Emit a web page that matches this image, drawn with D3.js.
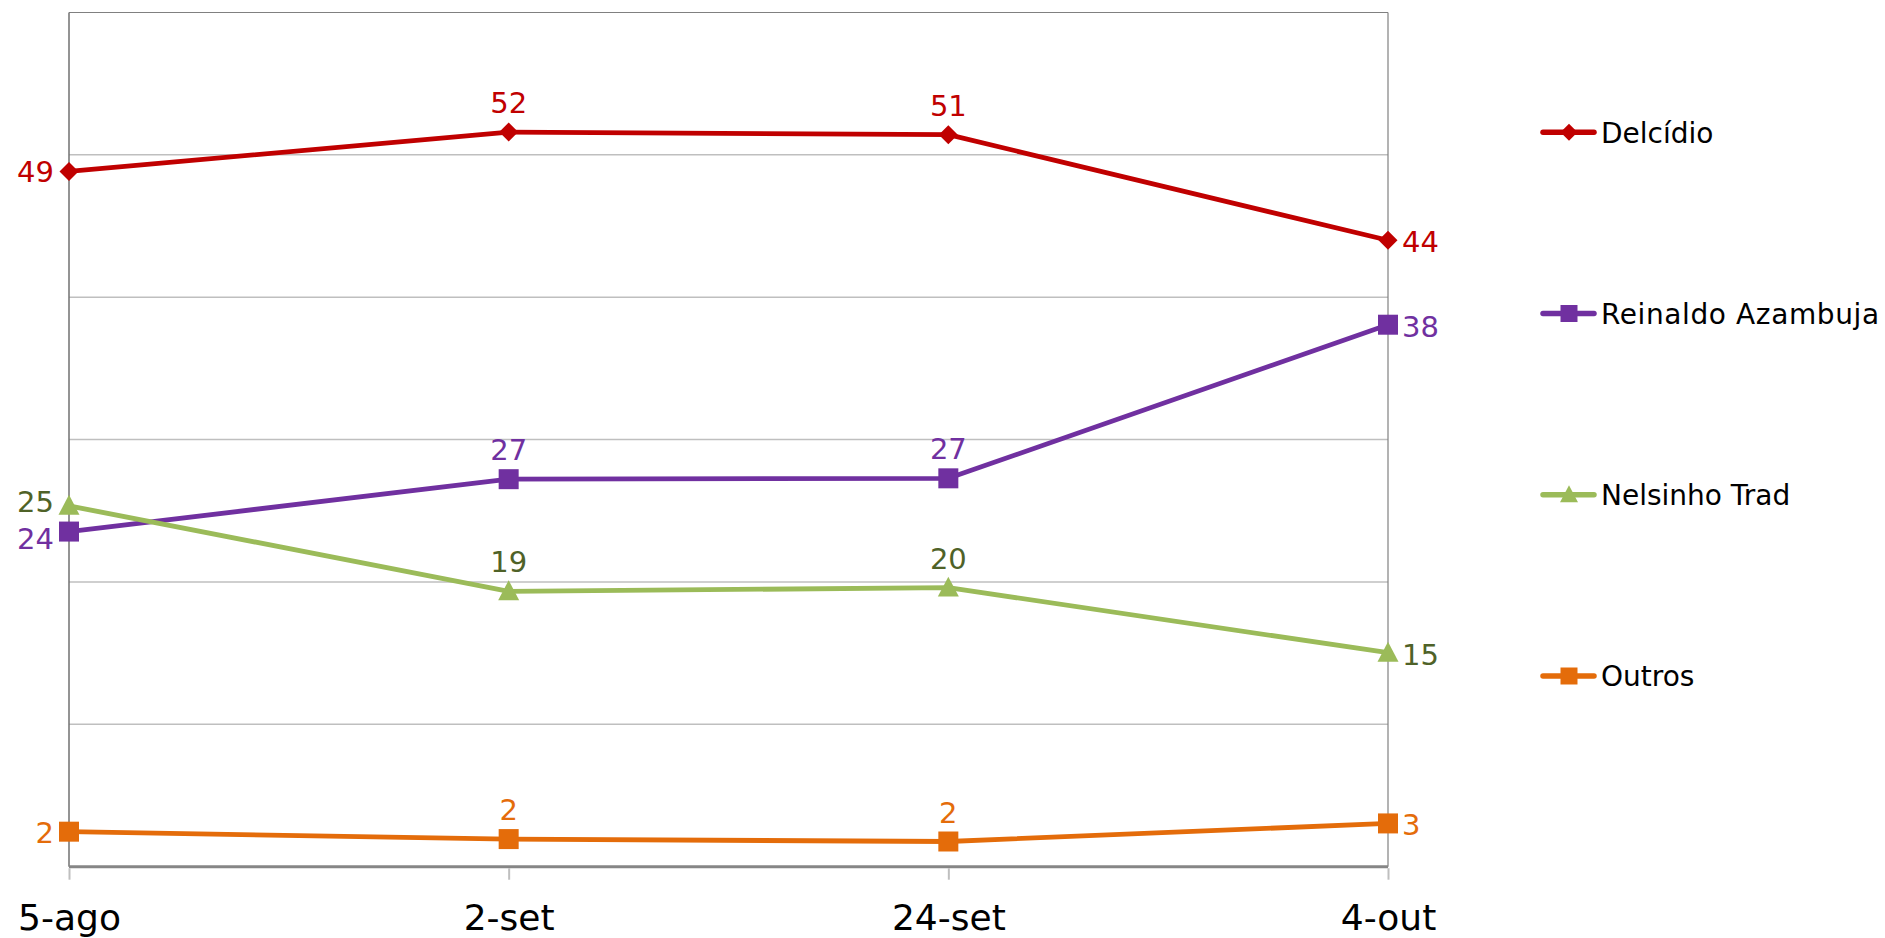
<!DOCTYPE html>
<html>
<head>
<meta charset="utf-8">
<script src="https://cdn.jsdelivr.net/npm/d3@7"></script>
<style>
  html, body { margin: 0; padding: 0; background: #fff; }
  svg { display: block; font-family: "DejaVu Sans", Verdana, sans-serif; }
</style>
</head>
<body>
<svg id="chart" width="1885" height="938"></svg>
<script>
// ---- data ----
const categories = ["5-ago", "2-set", "24-set", "4-out"];
const seriesNames = ["Delcídio", "Reinaldo Azambuja", "Nelsinho Trad", "Outros"];
const delcidio = [48.84, 51.6, 51.42, 44.0];
const reinaldo = [23.54, 27.22, 27.28, 38.07];
const nelsinho = [25.35, 19.34, 19.6, 15.03];
const outros = [2.46, 1.94, 1.77, 3.04];
const yTicks = [0, 10, 20, 30, 40, 50, 60];

(function () {
const seriesValues = [delcidio, reinaldo, nelsinho, outros];
const lineColors = ["#C00000", "#7030A0", "#9BBB59", "#E46C0A"];
const labelColors = ["#C00000", "#7030A0", "#4F6228", "#E46C0A"];
const markers = ["diamond", "square", "triangle", "square"];
// small vertical nudges for the first (left-side) labels so they do not collide
const firstLabelNudge = [0, 6, -5, 0];

const svg = d3.select("#chart");
const pLeft = 69, pRight = 1388, pTop = 12.5, pBottom = 866.7;

const x = d3.scalePoint().domain(categories).range([pLeft, pRight]);
const y = d3.scaleLinear().domain([0, 60]).range([pBottom, pTop]);

// gridlines
svg.append("g").selectAll("line")
  .data(yTicks.filter(t => t > 0 && t < 60))
  .join("line")
  .attr("x1", pLeft).attr("x2", pRight)
  .attr("y1", d => y(d)).attr("y2", d => y(d))
  .attr("stroke", "#BFBFBF").attr("stroke-width", 1.5);

// plot border (top/right) and left axis
svg.append("line").attr("x1", pLeft).attr("x2", pRight).attr("y1", y(60)).attr("y2", y(60))
  .attr("stroke", "#808080").attr("stroke-width", 1.2);
svg.append("line").attr("x1", pRight).attr("x2", pRight).attr("y1", y(60)).attr("y2", y(0))
  .attr("stroke", "#808080").attr("stroke-width", 1.2);
svg.append("line").attr("x1", pLeft).attr("x2", pLeft).attr("y1", y(60)).attr("y2", y(0))
  .attr("stroke", "#707070").attr("stroke-width", 1.5);

// x axis
const xAxis = d3.axisBottom(x).tickSize(13).tickPadding(20);
const gx = svg.append("g").attr("transform", `translate(0,${pBottom})`).call(xAxis);
gx.select(".domain").attr("stroke", "#868686").attr("stroke-width", 3).attr("d", `M${pLeft},0H${pRight}`);
gx.selectAll(".tick line").attr("stroke", "#BFBFBF").attr("stroke-width", 2).attr("y1", 1.5);
gx.selectAll(".tick text")
  .attr("font-family", "DejaVu Sans, Verdana, sans-serif")
  .attr("font-size", 36).attr("fill", "#000")
  .attr("dy", null).attr("y", 63);

function markerPath(type, size) {
  const h = size / 2;
  if (type === "diamond") return `M0,${-h}L${h},0L0,${h}L${-h},0Z`;
  if (type === "square") return `M${-h},${-h}H${h}V${h}H${-h}Z`;
  return `M0,${-h * 1.05}L${h},${h * 0.85}L${-h},${h * 0.85}Z`;
}
const markerSize = { diamond: 19, square: 20, triangle: 21 };

const line = d3.line().x((d, i) => x(categories[i])).y(d => y(d));
const fmt = d3.format(".0f");

seriesValues.forEach((vals, si) => {
  const g = svg.append("g");
  g.append("path").datum(vals).attr("d", line)
    .attr("fill", "none").attr("stroke", lineColors[si])
    .attr("stroke-width", 4.8).attr("stroke-linejoin", "round");
  g.selectAll("path.m").data(vals).join("path").attr("class", "m")
    .attr("transform", (d, i) => `translate(${x(categories[i])},${y(d)})`)
    .attr("d", markerPath(markers[si], markerSize[markers[si]]))
    .attr("fill", lineColors[si]);
  const last = vals.length - 1;
  g.selectAll("text").data(vals).join("text")
    .attr("font-size", 29).attr("fill", labelColors[si])
    .attr("x", (d, i) => i === 0 ? x(categories[i]) - 15 : i === last ? x(categories[i]) + 14 : x(categories[i]))
    .attr("y", (d, i) => i === 0 ? y(d) + 11 + firstLabelNudge[si]
                        : i === last ? y(d) + 12
                        : y(d) - 19)
    .attr("text-anchor", (d, i) => i === 0 ? "end" : i === last ? "start" : "middle")
    .text(d => fmt(d));
});

// legend
const legendY = [132.3, 313.5, 494.7, 676];
const lg = svg.append("g");
seriesNames.forEach((name, si) => {
  const g = lg.append("g").attr("transform", `translate(0,${legendY[si]})`);
  g.append("line").attr("x1", 1543).attr("x2", 1594).attr("y1", 0).attr("y2", 0)
    .attr("stroke", lineColors[si]).attr("stroke-width", 5.5).attr("stroke-linecap", "round");
  const ms = markers[si] === "triangle" ? 18 : 17;
  g.append("path").attr("transform", "translate(1569,0)")
    .attr("d", markerPath(markers[si], ms)).attr("fill", lineColors[si]);
  g.append("text").attr("x", 1601).attr("y", 10.3)
    .attr("font-size", 28).attr("fill", "#000")
    .attr("letter-spacing", si === 1 ? 0.6 : 0)
    .text(name);
});
})();
</script>
</body>
</html>
